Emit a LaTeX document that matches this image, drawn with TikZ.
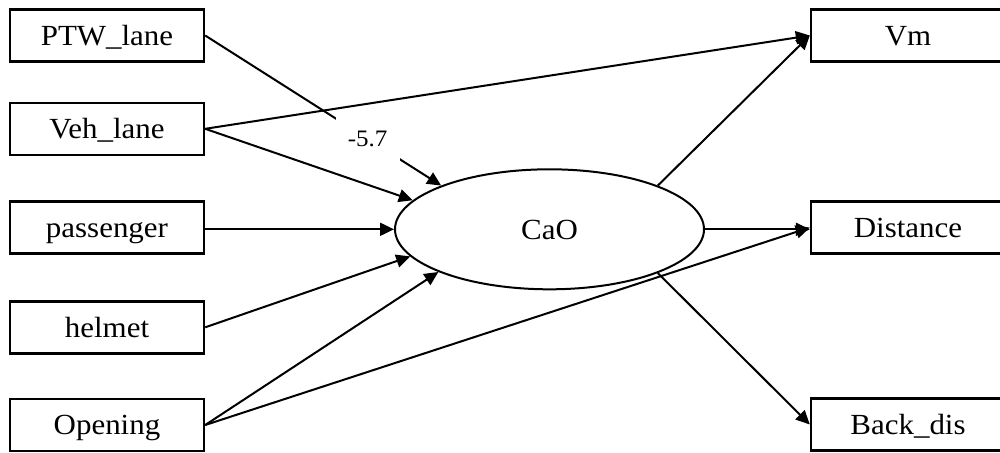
\documentclass[tikz,border=0pt]{standalone}
\usepackage{fontspec}
\setmainfont[FakeStretch=1.06]{Liberation Serif}
\usetikzlibrary{arrows.meta,shapes.geometric}
\begin{document}
\begin{tikzpicture}[x=0.5pt,y=-0.5pt,
  varbox/.style={draw,line width=1.2pt,minimum width=97pt,minimum height=26pt,
    inner sep=0pt,text height=12.7pt,text depth=3pt,
    font=\fontsize{14.6}{17}\selectfont},
  latent/.style={draw,ellipse,line width=1pt,minimum width=154.5pt,minimum height=60pt,
    inner sep=0pt,text height=12.7pt,text depth=3pt,
    font=\fontsize{14.6}{17}\selectfont},
  path/.style={line width=1pt,-{Triangle[length=7pt,width=6.5pt]}},
  coef/.style={fill=white,minimum width=32pt,minimum height=22pt,inner sep=0pt,
    font=\fontsize{11.8}{13}\selectfont}]
\useasboundingbox (0,0) rectangle (1000,452);
\clip (0,0) rectangle (1000,452);

% observed causes
\node[varbox] (ptw)  at (107,35.5)  {PTW\_lane};
\node[varbox] (veh)  at (107,128.8) {Veh\_lane};
\node[varbox] (pass) at (107,227.3) {passenger};
\node[varbox] (helm) at (107,327.3) {helmet};
\node[varbox] (open) at (107,425)   {Opening};

% latent construct
\node[latent] (cao) at (549.5,229.3) {CaO};

% observed indicators
\node[varbox] (vm)   at (908,35.5)  {Vm};
\node[varbox] (dist) at (908,227.5) {Distance};
\node[varbox] (back) at (908,424.5) {Back\_dis};

% paths into the construct
\draw[path] (ptw.east) -- (cao.158.3) node[coef,pos=0.688] {-5.7};
\draw[path] (veh.east) -- (cao.168.3);
\draw[path] (pass.east |- cao.west) -- (cao.west);
\draw[path] (helm.east) -- (cao.191.2);
\draw[path] (open.east) -- (cao.201);

% direct paths to indicators
\draw[path] (veh.east) -- (vm.west);
\draw[path] (open.east) -- (dist.west);

% paths out of the construct
\draw[path] (cao.22.2) -- (vm.west);
\draw[path] (cao.east) -- (cao.east -| dist.west);
\draw[path] (cao.-22.2) -- (back.west);
\end{tikzpicture}
\end{document}
